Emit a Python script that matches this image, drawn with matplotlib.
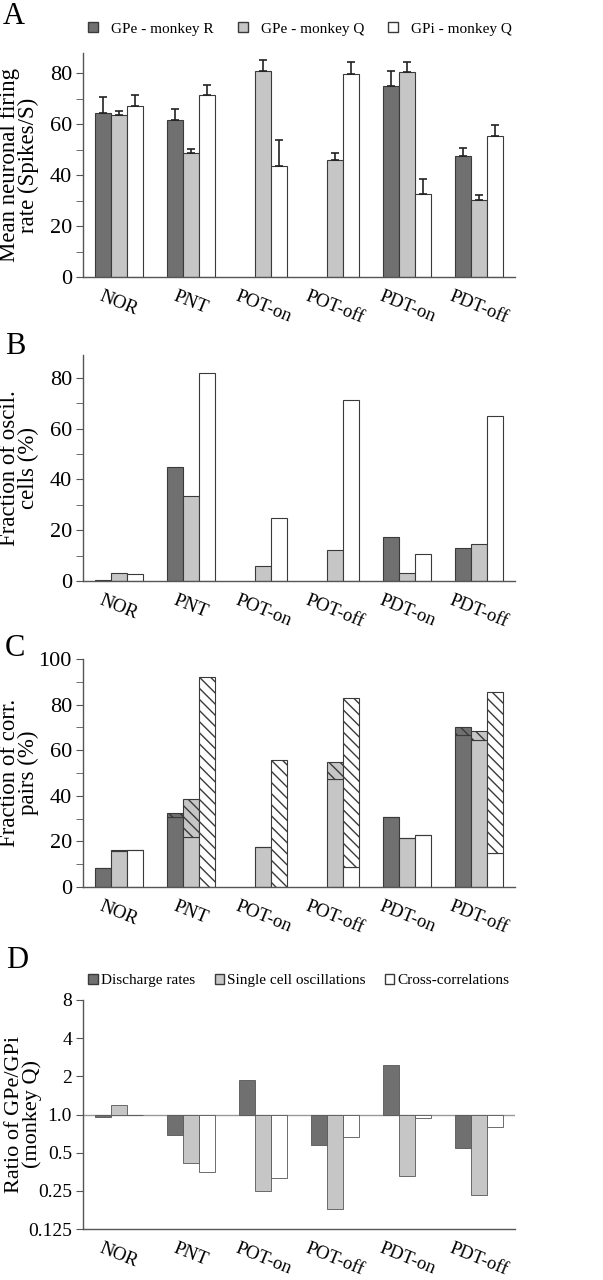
import numpy as np
import matplotlib
matplotlib.use("Agg")
import matplotlib.pyplot as plt
from matplotlib.ticker import FixedLocator, NullFormatter
from matplotlib.patches import Patch

plt.rcParams['font.family'] = ['Liberation Serif', 'DejaVu Serif']
plt.rcParams['hatch.linewidth'] = 1.0

# conditions
conds = ["NOR", "PNT", "POT-on", "POT-off", "PDT-on", "PDT-off"]

# A - mean firing rate (nan = not recorded)
rate_gpe_r = [64.5, 61.5, np.nan, np.nan, 75.0, 47.5]
rate_gpe_r_err = [6.2, 4.6, np.nan, np.nan, 5.8, 3.0]
rate_gpe_q = [63.7, 48.9, 80.9, 45.8, 80.7, 30.3]
rate_gpe_q_err = [1.7, 1.3, 4.2, 2.9, 3.6, 2.0]
rate_gpi_q = [67.3, 71.5, 43.7, 79.9, 32.7, 55.5]
rate_gpi_q_err = [4.3, 4.0, 10.3, 4.6, 5.7, 4.4]

# B - fraction of oscillating cells
osc_gpe_r = [0.3, 44.7, np.nan, np.nan, 17.3, 13.1]
osc_gpe_q = [3.3, 33.6, 6.0, 12.3, 3.3, 14.4]
osc_gpi_q = [2.8, 82.0, 24.8, 71.3, 10.5, 64.8]

# C - fraction of correlated pairs (solid part + hatched part on top)
corr_gpe_r = [8.5, 30.7, np.nan, np.nan, 30.7, 66.7]
corr_gpe_r_h = [0, 1.9, np.nan, np.nan, 0, 3.5]
corr_gpe_q = [15.9, 21.8, 17.5, 47.2, 21.5, 64.5]
corr_gpe_q_h = [0.5, 16.8, 0, 7.8, 0, 3.8]
corr_gpi_q = [16.4, 0, 0, 8.8, 22.8, 14.9]
corr_gpi_q_h = [0, 92.1, 55.7, 74.1, 0, 70.5]

# D - ratio GPe/GPi (monkey Q)
ratio_rate = [0.953, 0.683, 1.856, 0.573, 2.45, 0.545]
ratio_osc = [1.185, 0.413, 0.251, 0.181, 0.330, 0.231]
ratio_corr = [0.988, 0.352, 0.316, 0.662, 0.93, 0.804]

dark = "#707070"
light = "#c6c6c6"
white = "#ffffff"
edge = "#3a3a3a"
spine_c = "#555555"

W, H = 603, 1280
fig = plt.figure(figsize=(W / 100, H / 100), dpi=100)

def axes_px(top, bottom, left=83, right=515):
    return fig.add_axes([left / W, 1 - bottom / H, (right - left) / W, (bottom - top) / H])

x = np.arange(len(conds))
bw = 1 / 4.5
offs = [-bw, 0, bw]


def style(ax, ysize=16):
    for s in ["top", "right"]:
        ax.spines[s].set_visible(False)
    for s in ["left", "bottom"]:
        ax.spines[s].set_color(spine_c)
        ax.spines[s].set_linewidth(1.0)
    ax.set_xlim(-0.5, 5.5)
    ax.set_xticks(x)
    ax.set_xticklabels(conds, rotation=-22, ha="center", va="top", fontsize=13.5)
    ax.tick_params(axis="x", length=0, pad=8)
    ax.tick_params(axis="y", which="major", length=5, color=spine_c, labelsize=ysize, pad=3)
    ax.tick_params(axis="y", which="minor", length=5, color=spine_c)


def ylab(ax, text, size=16.5, pos=-44):
    ax.set_ylabel(text, fontsize=size, linespacing=0.85)
    ax.yaxis.set_label_coords(pos / 432, 0.5)


def bars(ax, vals, col, off, bottom=0, hatch=None):
    v = np.array(vals, dtype=float)
    ax.bar(x + off, v, bw, bottom=bottom, color=col, edgecolor=edge, linewidth=0.8,
           hatch=hatch, align="center")


# ---------- A ----------
axA = axes_px(53, 277)
for vals, err, col, off in [(rate_gpe_r, rate_gpe_r_err, dark, offs[0]),
                            (rate_gpe_q, rate_gpe_q_err, light, offs[1]),
                            (rate_gpi_q, rate_gpi_q_err, white, offs[2])]:
    v = np.array(vals, dtype=float)
    e = np.array(err, dtype=float)
    axA.bar(x + off, v, bw, color=col, edgecolor=edge, linewidth=0.8)
    axA.errorbar(x + off, v, yerr=[np.zeros_like(e), e], fmt="none", ecolor="#222222",
                 elinewidth=1.2, capsize=3, capthick=1.2)
axA.set_ylim(0, 88)
axA.set_yticks([0, 20, 40, 60, 80])
axA.yaxis.set_minor_locator(FixedLocator([10, 30, 50, 70]))
style(axA)
ylab(axA, "Mean neuronal firing\nrate (Spikes/S)")
axA.legend(handles=[Patch(facecolor=dark, edgecolor=edge, label="GPe - monkey R"),
                    Patch(facecolor=light, edgecolor=edge, label="GPe - monkey Q"),
                    Patch(facecolor=white, edgecolor=edge, label="GPi - monkey Q")],
           loc="center", bbox_to_anchor=(0.502, 1.107), ncol=3, frameon=False,
           fontsize=11, handlelength=0.65, handleheight=0.65, columnspacing=1.6,
           handletextpad=0.85, borderpad=0, borderaxespad=0)
fig.text(3 / W, 1 - 2 / H, "A", fontsize=22, va="top", ha="left")

# ---------- B ----------
axB = axes_px(355, 581)
bars(axB, osc_gpe_r, dark, offs[0])
bars(axB, osc_gpe_q, light, offs[1])
bars(axB, osc_gpi_q, white, offs[2])
axB.set_ylim(0, 89)
axB.set_yticks([0, 20, 40, 60, 80])
axB.yaxis.set_minor_locator(FixedLocator([10, 30, 50, 70]))
style(axB)
ylab(axB, "Fraction of oscil.\ncells (%)")
fig.text(5 / W, 1 - 332 / H, "B", fontsize=22, va="top", ha="left")

# ---------- C ----------
axC = axes_px(659, 887)
hatch = "\\\\\\"
for base, top, col, off in [(corr_gpe_r, corr_gpe_r_h, dark, offs[0]),
                            (corr_gpe_q, corr_gpe_q_h, light, offs[1]),
                            (corr_gpi_q, corr_gpi_q_h, white, offs[2])]:
    b = np.array(base, dtype=float)
    t = np.array(top, dtype=float)
    bars(axC, b, col, off)
    axC.bar(x + off, t, bw, bottom=b, color=col, edgecolor=edge, linewidth=0.8, hatch=hatch)
axC.set_ylim(0, 100)
axC.set_yticks([0, 20, 40, 60, 80, 100])
axC.yaxis.set_minor_locator(FixedLocator([10, 30, 50, 70, 90]))
style(axC)
ylab(axC, "Fraction of corr.\npairs (%)")
fig.text(5 / W, 1 - 634 / H, "C", fontsize=22, va="top", ha="left")

# ---------- D ----------
axD = axes_px(1000, 1229)
for vals, col, off in [(ratio_rate, dark, offs[0]), (ratio_osc, light, offs[1]), (ratio_corr, white, offs[2])]:
    v = np.array(vals)
    axD.bar(x + off, v - 1, bw, bottom=1, color=col, edgecolor="#555555", linewidth=0.6)
axD.set_yscale("log", base=2)
axD.set_ylim(0.125, 8)
axD.axhline(1.0, color="#999999", linewidth=1.0, zorder=0.5)
style(axD, ysize=14)
axD.set_yticks([0.125, 0.25, 0.5, 1, 2, 4, 8])
axD.set_yticklabels(["0.125", "0.25", "0.5", "1.0", "2", "4", "8"])
axD.yaxis.set_minor_formatter(NullFormatter())
axD.yaxis.set_minor_locator(FixedLocator([]))
ylab(axD, "Ratio of GPe/GPi\n(monkey Q)", size=16, pos=-41)
axD.legend(handles=[Patch(facecolor=dark, edgecolor=edge, label="Discharge rates"),
                    Patch(facecolor=light, edgecolor=edge, label="Single cell oscillations"),
                    Patch(facecolor=white, edgecolor=edge, label="Cross-correlations")],
           loc="center", bbox_to_anchor=(0.5, 1.085), ncol=3, frameon=False,
           fontsize=11, handlelength=0.6, handleheight=0.6, columnspacing=1.3,
           handletextpad=0.2, borderpad=0, borderaxespad=0)
fig.text(6 / W, 1 - 946 / H, "D", fontsize=22, va="top", ha="left")

fig.savefig("out.png", dpi=100)
